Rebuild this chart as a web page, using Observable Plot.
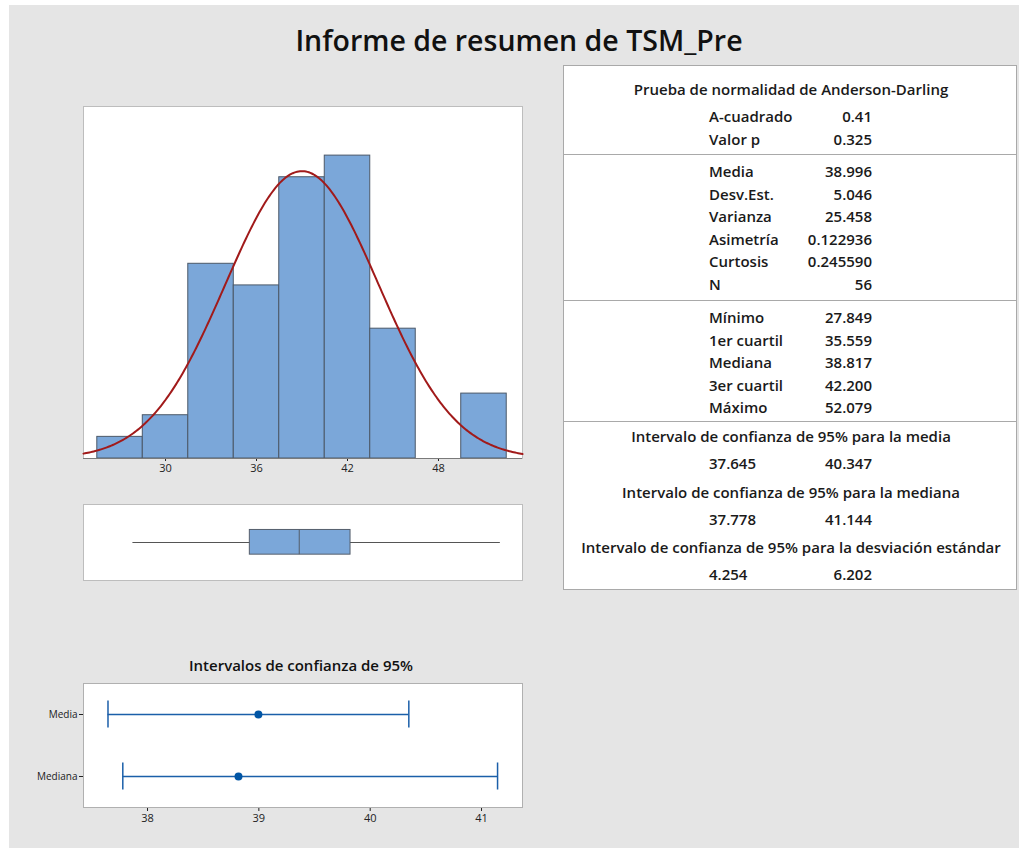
<!DOCTYPE html>
<html>
<head>
<meta charset="utf-8">
<script src="https://cdn.jsdelivr.net/npm/d3@7"></script>
<script src="https://cdn.jsdelivr.net/npm/@observablehq/plot@0.6"></script>
<style>
  html, body { margin: 0; padding: 0; background: #ffffff; }
  body { width: 1019px; height: 848px; position: relative; overflow: hidden; font-family: "Open Sans", "Noto Sans", sans-serif; color: #1a1a1a; }
  #bg { position: absolute; left: 9px; top: 5px; width: 1010px; height: 843px; background: #e5e5e5; }
  .abs { position: absolute; }
  #title { left: 0; top: 21px; width: 1038px; text-align: center; font-size: 28.5px; font-weight: 600; color: #111; }
  #ciTitle { left: 0; top: 655px; width: 602px; text-align: center; font-size: 15px; font-weight: 600; color: #111; }
  #table { left: 563px; top: 65px; width: 454px; height: 525px; background: #fff; border: 1px solid #a9a9a9; box-sizing: border-box; }
  #table .t { position: absolute; font-size: 15px; font-weight: 600; line-height: 20px; white-space: nowrap; color: #1a1a1a; }
  #table .sep { position: absolute; left: 0; width: 100%; height: 0; border-top: 1px solid #a9a9a9; }
  svg { overflow: visible; }
</style>
</head>
<body>
<div id="bg"></div>
<div id="title" class="abs">Informe de resumen de TSM_Pre</div>
<div id="ciTitle" class="abs">Intervalos de confianza de 95%</div>
<div id="table" class="abs"></div>
<div id="hist" class="abs" style="left:0;top:100px"></div>
<div id="box" class="abs" style="left:0;top:500px"></div>
<div id="ci" class="abs" style="left:0;top:676px"></div>
<script>
// ---------------- DATA ----------------
const binEdges = [25.5, 28.5, 31.5, 34.5, 37.5, 40.5, 43.5, 46.5, 49.5, 52.5];
const binCounts = [1, 2, 9, 8, 13, 14, 6, 0, 3];
const histTicks = [30, 36, 42, 48];

const adHeader = "Prueba de normalidad de Anderson-Darling";
const adLabels = ["A-cuadrado", "Valor p"];
const adValues = ["0.41", "0.325"];

const descLabels = ["Media", "Desv.Est.", "Varianza", "Asimetría", "Curtosis", "N"];
const descValues = ["38.996", "5.046", "25.458", "0.122936", "0.245590", "56"];

const quantLabels = ["Mínimo", "1er cuartil", "Mediana", "3er cuartil", "Máximo"];
const quantValues = ["27.849", "35.559", "38.817", "42.200", "52.079"];

const ciHeaders = [
  "Intervalo de confianza de 95% para la media",
  "Intervalo de confianza de 95% para la mediana",
  "Intervalo de confianza de 95% para la desviación estándar"
];
const ciLower = ["37.645", "37.778", "4.254"];
const ciUpper = ["40.347", "41.144", "6.202"];

const ciCategories = ["Media", "Mediana"];
const ciCenters = [38.996, 38.817];
const ciTicks = [38, 39, 40, 41];

// ---------------- DERIVED ----------------
const mean = Number(descValues[0]);
const sd = Number(descValues[1]);
const n = Number(descValues[5]);
const binW = binEdges[1] - binEdges[0];
const bins = binCounts.map((c, i) => ({x1: binEdges[i], x2: binEdges[i + 1], count: c})).filter(d => d.count > 0);
const xDomain = [24.59, 53.54];
const curve = d3.range(0, 301).map(k => {
  const x = xDomain[0] + (xDomain[1] - xDomain[0]) * k / 300;
  const z = (x - mean) / sd;
  return {x, y: n * binW * Math.exp(-0.5 * z * z) / (sd * Math.sqrt(2 * Math.PI))};
});
const [qMin, q1, qMed, q3, qMax] = quantValues.map(Number);

const barFill = "#7ba7d9";
const barStroke = "#4b5868";
const panelStroke = "#bdbdbd";
const axisStroke = "#7a7a7a";

// ---------------- HISTOGRAM ----------------
const hist = Plot.plot({
  width: 530, height: 385,
  marginLeft: 83, marginRight: 8, marginTop: 6, marginBottom: 27,
  style: {background: "transparent", fontSize: "11px", fontFamily: "Open Sans, sans-serif", color: "#222"},
  x: {domain: xDomain, ticks: histTicks, tickSize: 3, tickPadding: 3, tickFormat: d3.format("d"), label: null},
  y: {domain: [0, 16.27], axis: null},
  marks: [
    Plot.frame({fill: "white", stroke: panelStroke}),
    Plot.rectY(bins, {x1: "x1", x2: "x2", y: "count", fill: barFill, stroke: barStroke, strokeWidth: 1}),
    Plot.line(curve, {x: "x", y: "y", stroke: "#a11a1a", strokeWidth: 2}),
    Plot.ruleY([0], {stroke: axisStroke})
  ]
});
document.getElementById("hist").appendChild(hist);

// ---------------- BOXPLOT ----------------
const box = Plot.plot({
  width: 530, height: 85,
  marginLeft: 83, marginRight: 8, marginTop: 4, marginBottom: 5,
  style: {background: "transparent"},
  x: {domain: xDomain, axis: null},
  y: {domain: [0, 1], axis: null},
  marks: [
    Plot.frame({fill: "white", stroke: panelStroke}),
    Plot.ruleY([0.5], {x1: qMin, x2: qMax, stroke: "#555", strokeWidth: 1}),
    Plot.rect([{}], {x1: q1, x2: q3, y1: 0.34, y2: 0.665, fill: barFill, stroke: "#555e6b", strokeWidth: 1}),
    Plot.ruleX([qMed], {y1: 0.34, y2: 0.665, stroke: "#555e6b", strokeWidth: 1})
  ]
});
document.getElementById("box").appendChild(box);

// ---------------- CI PLOT ----------------
const ciData = ciCategories.map((c, i) => ({cat: c, pos: i + 0.5, lo: Number(ciLower[i]), hi: Number(ciUpper[i]), mid: ciCenters[i]}));
const capHalf = 0.218;
const ciColor = "#1b5fa9";
const ci = Plot.plot({
  width: 530, height: 160,
  marginLeft: 83, marginRight: 8, marginTop: 7, marginBottom: 29,
  style: {background: "transparent", fontSize: "11px", fontFamily: "Open Sans, sans-serif", color: "#222"},
  x: {domain: [37.425, 41.368], ticks: ciTicks, tickSize: 4, tickPadding: 3, tickFormat: d3.format("d"), label: null},
  y: {domain: [0, 2], reverse: true, ticks: ciData.map(d => d.pos), tickFormat: v => ciCategories[Math.floor(v)], tickSize: 4, tickPadding: 2, label: null},
  marks: [
    Plot.frame({fill: "white", stroke: "#b0b0b0"}),
    Plot.ruleY(ciData, {y: "pos", x1: "lo", x2: "hi", stroke: ciColor, strokeWidth: 1.5}),
    Plot.ruleX(ciData, {x: "lo", y1: d => d.pos - capHalf, y2: d => d.pos + capHalf, stroke: ciColor, strokeWidth: 1.5}),
    Plot.ruleX(ciData, {x: "hi", y1: d => d.pos - capHalf, y2: d => d.pos + capHalf, stroke: ciColor, strokeWidth: 1.5}),
    Plot.dot(ciData, {x: "mid", y: "pos", r: 4, fill: "#0055a5", stroke: "none"})
  ]
});
document.getElementById("ci").appendChild(ci);
ci.querySelectorAll("g[aria-label='y-axis tick label'] text, g[aria-label='y-axis'] text").forEach(t => t.style.fontSize = "10px");

// ---------------- TABLE ----------------
const table = document.getElementById("table");
const tableW = 454;
function addText(txt, centerY, opts) {
  const el = document.createElement("div");
  el.className = "t";
  el.textContent = txt;
  el.style.top = (centerY - 10) + "px";
  if (opts.center) { el.style.left = "0px"; el.style.width = tableW + "px"; el.style.textAlign = "center"; }
  else if (opts.left !== undefined) { el.style.left = opts.left + "px"; }
  else if (opts.right !== undefined) { el.style.right = (tableW - opts.right) + "px"; el.style.textAlign = "right"; }
  table.appendChild(el);
}
function addSep(y) {
  const el = document.createElement("div");
  el.className = "sep";
  el.style.top = y + "px";
  table.appendChild(el);
}
const labelX = 145, valueR = 310;
addText(adHeader, 23, {center: true});
adLabels.forEach((l, i) => { addText(l, 50 + i * 22.5, {left: labelX}); addText(adValues[i], 50 + i * 22.5, {right: valueR}); });
addSep(88);
descLabels.forEach((l, i) => { addText(l, 105 + i * 22.6, {left: labelX}); addText(descValues[i], 105 + i * 22.6, {right: valueR}); });
addSep(234);
quantLabels.forEach((l, i) => { addText(l, 251 + i * 22.5, {left: labelX}); addText(quantValues[i], 251 + i * 22.5, {right: valueR}); });
addSep(355);
ciHeaders.forEach((h, i) => {
  const y0 = 370 + i * 55.5;
  addText(h, y0, {center: true});
  addText(ciLower[i], y0 + 27, {left: labelX});
  addText(ciUpper[i], y0 + 27, {right: valueR});
});
</script>
</body>
</html>
